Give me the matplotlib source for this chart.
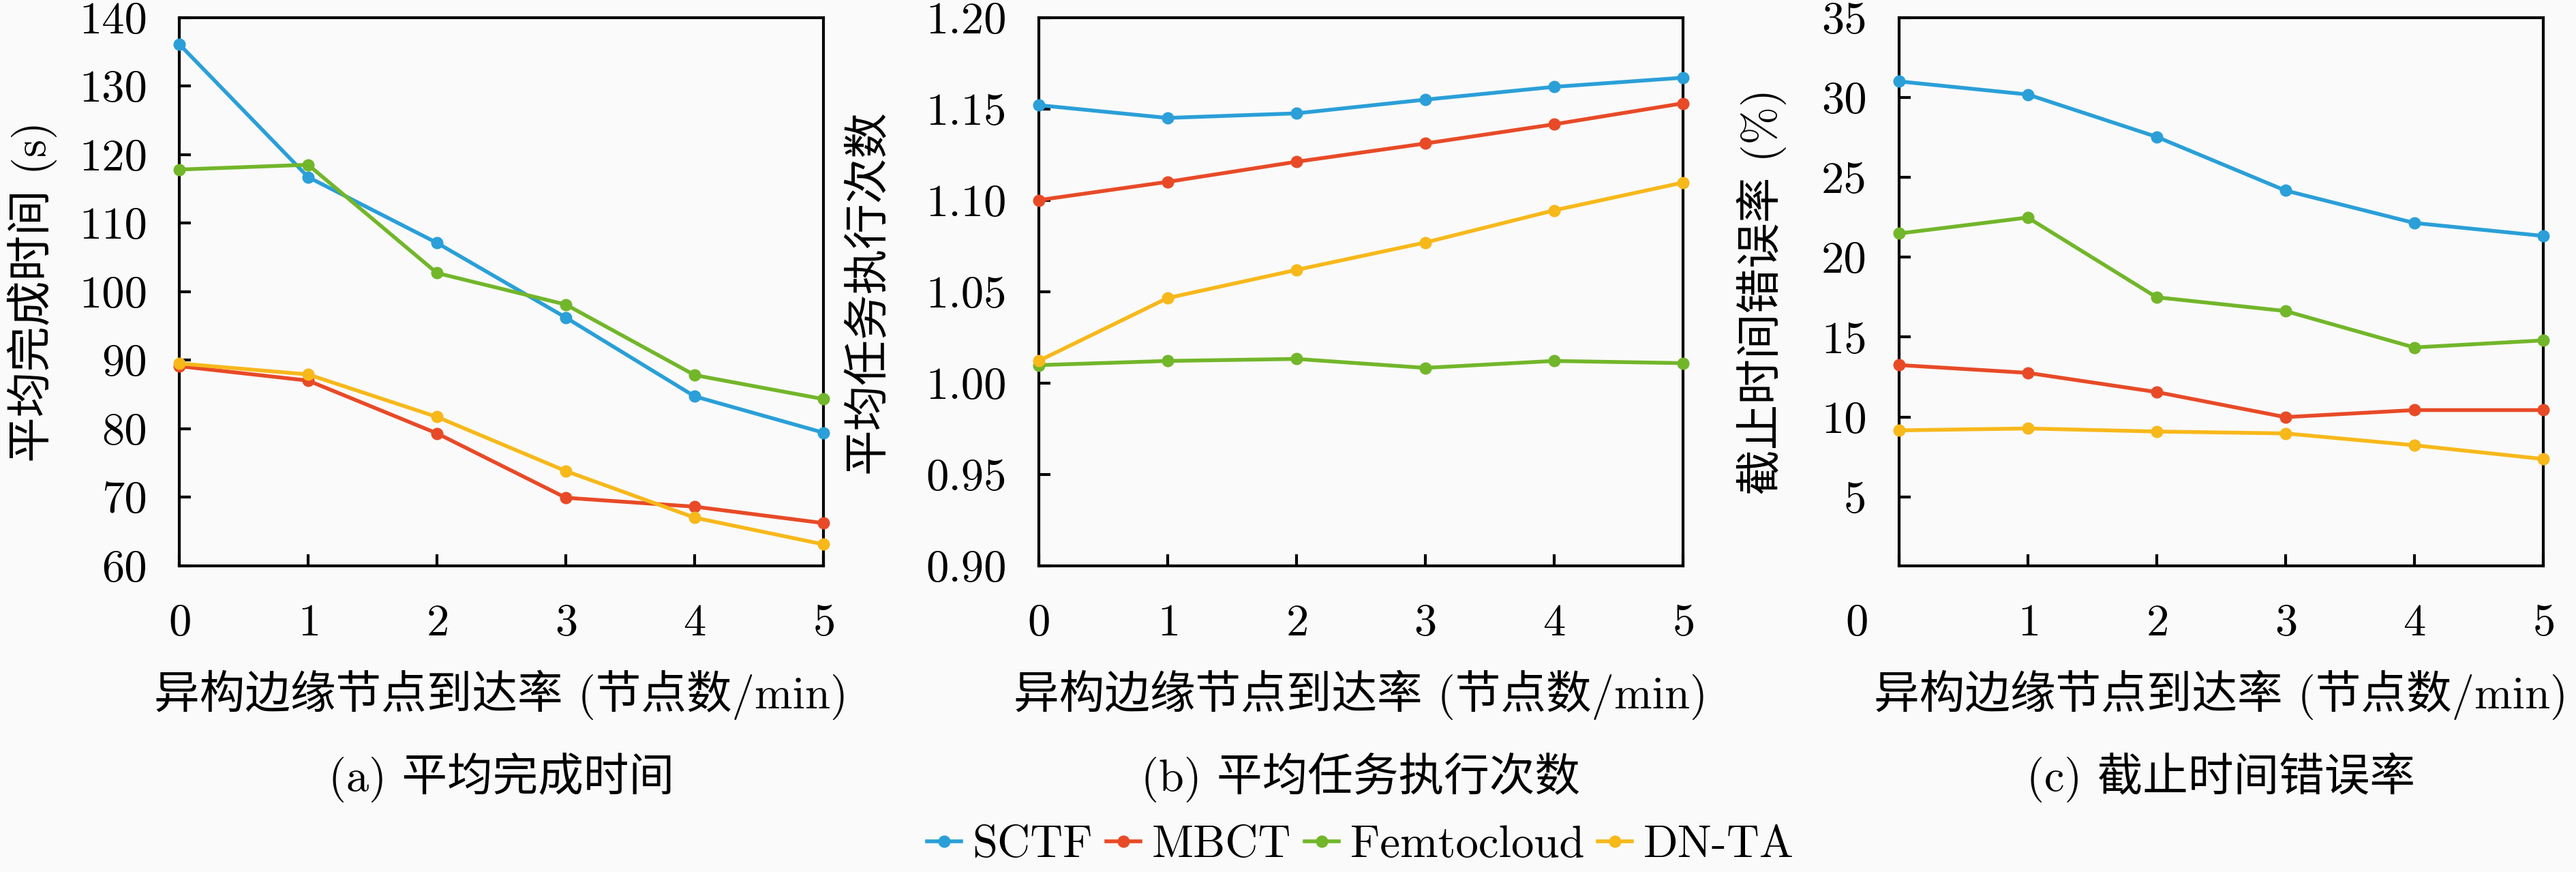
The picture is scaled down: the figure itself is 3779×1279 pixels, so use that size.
import matplotlib
matplotlib.use('Agg')
import matplotlib.pyplot as plt
import matplotlib.transforms as mtransforms

plt.rcParams['font.family'] = ['cmr10', 'Noto Sans CJK SC']
plt.rcParams['mathtext.fontset'] = 'cm'
plt.rcParams['axes.formatter.use_mathtext'] = True
plt.rcParams['font.size'] = 48

# data
rate = [0, 1, 2, 3, 4, 5]
methods = ['SCTF', 'MBCT', 'Femtocloud', 'DN-TA']
colors = ['#2A9FD8', '#E84A27', '#72B62A', '#F7B81A']

# (a) average completion time (s)
time_sctf = [136.1, 116.7, 107.1, 96.2, 84.7, 79.4]
time_mbct = [89.1, 87.0, 79.3, 69.9, 68.6, 66.2]
time_femto = [117.8, 118.5, 102.7, 98.1, 87.8, 84.3]
time_dnta = [89.5, 87.9, 81.7, 73.8, 67.0, 63.1]

# (b) average execution count
exec_sctf = [1.152, 1.145, 1.1475, 1.155, 1.162, 1.167]
exec_mbct = [1.100, 1.110, 1.121, 1.131, 1.1415, 1.153]
exec_femto = [1.0097, 1.012, 1.0131, 1.0082, 1.012, 1.0108]
exec_dnta = [1.012, 1.0464, 1.0618, 1.0768, 1.0944, 1.1096]

# (c) deadline miss rate (%)
miss_sctf = [31.0, 30.18, 27.53, 24.17, 22.14, 21.33]
miss_mbct = [13.25, 12.76, 11.56, 9.99, 10.43, 10.43]
miss_femto = [21.48, 22.48, 17.49, 16.63, 14.35, 14.79]
miss_dnta = [9.16, 9.28, 9.09, 8.97, 8.23, 7.37]

panels = [
    ([time_sctf, time_mbct, time_femto, time_dnta], '平均完成时间 (s)', '(a) 平均完成时间',
     (60, 140), [60, 70, 80, 90, 100, 110, 120, 130, 140], '{:.0f}'),
    ([exec_sctf, exec_mbct, exec_femto, exec_dnta], '平均任务执行次数', '(b) 平均任务执行次数',
     (0.90, 1.20), [0.90, 0.95, 1.00, 1.05, 1.10, 1.15, 1.20], '{:.2f}'),
    ([miss_sctf, miss_mbct, miss_femto, miss_dnta], '截止时间错误率 (%)', '(c) 截止时间错误率',
     (0.7, 35), [5, 10, 15, 20, 25, 30, 35], '{:.0f}'),
]

lefts = [263 / 3780, 1523.6 / 3780, 2785.7 / 3780]
ylabel_x = [-0.189, -0.232, -0.174]
bg = '#fafafa'

fig = plt.figure(figsize=(37.8, 12.79), dpi=100, facecolor=bg)

handles = []
for i, (series, ylab, cap, ylim, yticks, fmt) in enumerate(panels):
    ax = fig.add_axes([lefts[i], 0.3514, 0.25, 0.6286])
    ax.set_facecolor(bg)
    lines = []
    for vals, c in zip(series, colors):
        ln, = ax.plot(rate, vals, color=c, lw=4, marker='o', markersize=12,
                      clip_on=False, zorder=3)
        lines.append(ln)
    if i == 0:
        handles = lines
    ax.set_xlim(0, 5)
    ax.set_ylim(*ylim)
    ax.set_xticks(rate)
    ax.set_yticks(yticks)
    ax.set_yticklabels([fmt.format(v) for v in yticks])
    ax.tick_params(direction='in', length=12, width=3, top=False, right=False)
    ax.tick_params(axis='x', pad=40)
    ax.tick_params(axis='y', pad=34)
    for sp in ax.spines.values():
        sp.set_linewidth(3)
    ax.set_ylabel(ylab)
    ax.yaxis.set_label_coords(ylabel_x[i], 0.5)
    ax.set_xlabel('异构边缘节点到达率 (节点数/min)')
    ax.xaxis.set_label_coords(0.5, -0.19)
    cx = lefts[i] + 0.125
    fig.text(cx, 1 - 1140 / 1279, cap, ha='center', va='center')
    if i == 2:
        # the 0 label of panel (c) sits left of the axis corner
        lab = ax.get_xticklabels()[0]
        lab.set_transform(lab.get_transform() +
                          mtransforms.ScaledTranslation(-0.62, 0, fig.dpi_scale_trans))

fig.legend(handles, methods, loc='center', bbox_to_anchor=(1996 / 3780, 1 - 1240 / 1279),
           ncol=4, frameon=False, handlelength=0.75, handletextpad=0.25,
           columnspacing=0.3, borderaxespad=0, borderpad=0)

fig.savefig('out.png', dpi=100, facecolor=bg)
